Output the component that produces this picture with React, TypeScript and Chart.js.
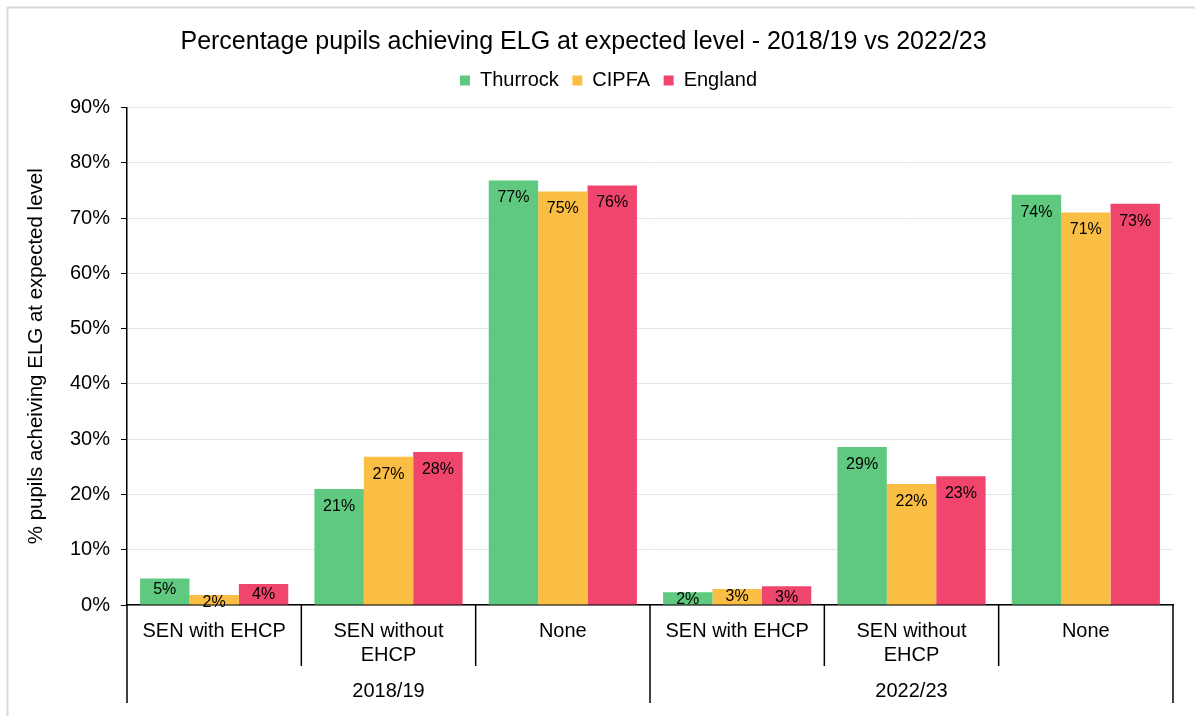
import React, { useEffect, useRef } from "react";
import { Chart, registerables } from "chart.js";

Chart.register(...registerables);

const titleText = "Percentage pupils achieving ELG at expected level - 2018/19 vs 2022/23";
const yAxisTitle = "% pupils acheiving ELG at expected level";
const years = ["2018/19", "2022/23"];
const senTypes = ["SEN with EHCP", "SEN without EHCP", "None"];
const categoryLabels: (string | string[])[] = [
  "SEN with EHCP", ["SEN without", "EHCP"], "None",
  "SEN with EHCP", ["SEN without", "EHCP"], "None",
];
const seriesNames = ["Thurrock", "CIPFA", "England"];
const thurrock = [4.8, 21.0, 76.8, 2.3, 28.6, 74.2];
const cipfa = [1.8, 26.8, 74.8, 2.9, 21.9, 71.0];
const england = [3.8, 27.7, 75.9, 3.4, 23.3, 72.6];
const seriesColors = ["#5EC97F", "#FBBE45", "#F0466E"];
const yTicks = [0, 10, 20, 30, 40, 50, 60, 70, 80, 90];

const FONT = "'Liberation Sans', Arial, sans-serif";

const decorPlugin = {
  id: "decor",
  beforeLayout(chart: any) {
    const lg = chart.legend;
    if (lg && !lg._patchedFit) {
      const orig = lg.fit.bind(lg);
      lg.fit = function () {
        orig();
        this.height += 7;
      };
      lg._patchedFit = true;
    }
  },
  beforeDraw(chart: any) {
    const ctx = chart.ctx;
    ctx.save();
    ctx.fillStyle = "#ffffff";
    ctx.fillRect(0, 0, chart.width, chart.height);
    ctx.strokeStyle = "#d9d9d9";
    ctx.lineWidth = 2;
    ctx.strokeRect(7.5, 7.5, chart.width + 10, chart.height + 10);
    ctx.restore();
  },
  afterLayout(chart: any) {
    const lg = chart.legend;
    if (lg) { lg.left += 18; lg.right += 18; }
    const tb = chart.titleBlock;
    if (tb) { tb.left -= 7; tb.right -= 7; }
  },
  afterDatasetsDraw(chart: any) {
    const ctx = chart.ctx;
    ctx.save();
    ctx.font = `16px ${FONT}`;
    ctx.fillStyle = "#000";
    ctx.textAlign = "center";
    ctx.textBaseline = "middle";
    chart.data.datasets.forEach((ds: any, i: number) => {
      const meta = chart.getDatasetMeta(i);
      meta.data.forEach((bar: any, j: number) => {
        const v = ds.data[j];
        const h = bar.base - bar.y;
        const off = h >= 40 ? 17.5 : h >= 18 ? 11 : 7.8;
        ctx.fillText(Math.round(v) + "%", bar.x, bar.y + off);
      });
    });
    ctx.restore();
  },
  afterDraw(chart: any) {
    const ctx = chart.ctx;
    const xs = chart.scales.x;
    const area = chart.chartArea;
    const n = categoryLabels.length;
    const bounds: number[] = [];
    for (let i = 0; i <= n; i++) {
      if (i === 0) bounds.push(area.left);
      else if (i === n) bounds.push(area.right);
      else bounds.push((xs.getPixelForValue(i - 1) + xs.getPixelForValue(i)) / 2);
    }
    ctx.save();
    ctx.strokeStyle = "#000";
    ctx.lineWidth = 1.5;
    const per = senTypes.length;
    for (let i = 0; i <= n; i++) {
      const isGroup = i % per === 0;
      ctx.beginPath();
      ctx.moveTo(bounds[i], area.bottom);
      ctx.lineTo(bounds[i], area.bottom + (isGroup ? 98 : 61));
      ctx.stroke();
    }
    ctx.font = `20px ${FONT}`;
    ctx.fillStyle = "#000";
    ctx.textAlign = "center";
    ctx.textBaseline = "middle";
    years.forEach((y, g) => {
      const cx = (bounds[g * per] + bounds[(g + 1) * per]) / 2;
      ctx.fillText(y, cx, area.bottom + 86);
    });
    ctx.restore();
  },
};

export default function App() {
  const ref = useRef<HTMLCanvasElement | null>(null);
  useEffect(() => {
    if (!ref.current) return;
    Chart.defaults.font.family = FONT;
    Chart.defaults.color = "#000";
    const chart = new Chart(ref.current, {
      type: "bar",
      data: {
        labels: categoryLabels,
        datasets: [thurrock, cipfa, england].map((d, i) => ({
          label: seriesNames[i],
          data: d,
          backgroundColor: seriesColors[i],
          borderWidth: 0,
          categoryPercentage: 0.85,
          barPercentage: 1,
        })),
      },
      options: {
        responsive: false,
        animation: false,
        layout: { padding: { left: 8, right: 22, top: 10, bottom: 0 } },
        plugins: {
          title: {
            display: true,
            text: titleText,
            color: "#000",
            font: { size: 25, weight: "normal", family: FONT },
            padding: { top: 17, bottom: 0 },
          },
          legend: {
            display: true,
            position: "top",
            labels: {
              boxWidth: 10,
              boxHeight: 10,
              padding: 13.5,
              color: "#000",
              font: { size: 20, family: FONT },
            },
          },
          tooltip: { enabled: false },
        },
        scales: {
          x: {
            grid: { display: false, drawTicks: false },
            border: { display: true, color: "#000", width: 1.5 },
            ticks: {
              color: "#000",
              font: { size: 20, family: FONT },
              maxRotation: 0,
              minRotation: 0,
              autoSkip: false,
              padding: 14,
            },
            afterFit(scale: any) {
              scale.height = 111;
            },
          },
          y: {
            min: 0,
            max: 90,
            afterBuildTicks(scale: any) {
              scale.ticks = yTicks.map((v) => ({ value: v }));
            },
            ticks: {
              color: "#000",
              font: { size: 20, family: FONT },
              padding: 11,
              callback: (v: any) => v + "%",
            },
            grid: {
              color: "#e6e6e6",
              tickColor: "#000",
              tickLength: 6,
              lineWidth: 1,
            },
            border: { display: true, color: "#000", width: 1.5 },
            title: {
              display: true,
              text: yAxisTitle,
              color: "#000",
              font: { size: 20.5, family: FONT },
              padding: { top: 16, bottom: 0 },
            },
            afterFit(scale: any) {
              scale.width = 119;
            },
          },
        },
      },
      plugins: [decorPlugin],
    });
    return () => chart.destroy();
  }, []);
  return (
    <div style={{ position: "fixed", left: 0, top: 0, width: 1195, height: 716 }}>
      <canvas ref={ref} width={1195} height={716} style={{ display: "block" }} />
    </div>
  );
}
